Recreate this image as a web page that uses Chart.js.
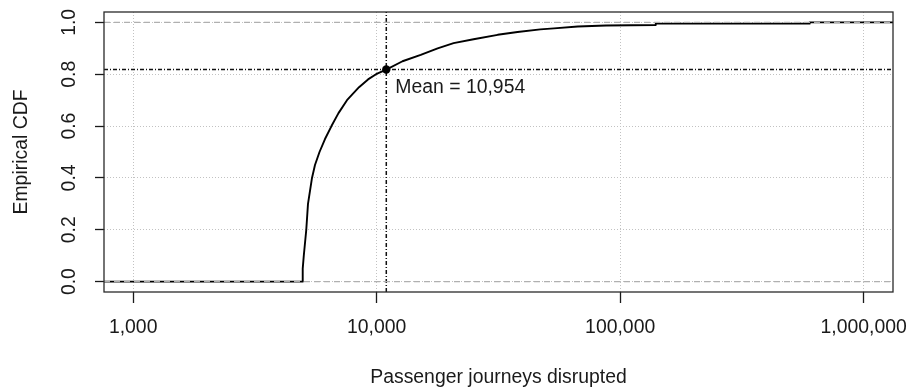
<!DOCTYPE html>
<html>
<head>
<meta charset="utf-8">
<script src="https://cdn.jsdelivr.net/npm/chart.js@4.4.1/dist/chart.umd.min.js"></script>
<style>
  html, body { margin: 0; padding: 0; background: #ffffff; }
  #wrap { width: 908px; height: 392px; }
</style>
</head>
<body>
<div id="wrap"><canvas id="c" width="908" height="392"></canvas></div>
<script>
// ---- data ----
const ecdfX = [759, 4940, 4970, 5020, 5140, 5224, 5426, 5581, 5825, 6135, 6523, 6970, 7553, 8465, 9218, 9943, 10954, 12770, 15170, 17800, 20700, 25000, 31400, 37900, 47000, 53500, 67000, 87500, 140000, 140000, 600000, 600000, 1320000];
const ecdfY = [0, 0, 0.05, 0.10, 0.20, 0.30, 0.40, 0.45, 0.50, 0.55, 0.60, 0.65, 0.70, 0.75, 0.78, 0.80, 0.818, 0.85, 0.875, 0.90, 0.92, 0.935, 0.952, 0.963, 0.973, 0.977, 0.984, 0.988, 0.990, 0.995, 0.995, 1.0, 1.0];
const meanValue = [10954];
const meanCdf = [0.818];
const meanLabel = ['Mean = 10,954'];
const refLevels = [0, 1];
const xTickValues = [1000, 10000, 100000, 1000000];
const xTickLabels = ['1,000', '10,000', '100,000', '1,000,000'];
const yTickValues = [0, 0.2, 0.4, 0.6, 0.8, 1.0];
const yTickLabels = ['0.0', '0.2', '0.4', '0.6', '0.8', '1.0'];
const xRange = [759, 1320000];
const yRange = [-0.04, 1.04];
const xTitle = 'Passenger journeys disrupted';
const yTitle = 'Empirical CDF';

// ---- styling ----
const FONT = "'Liberation Sans', Arial, sans-serif";
const FS = 19.4;
const TXT = '#1a1a1a';
Chart.defaults.font.family = FONT;
Chart.defaults.font.size = FS;
Chart.defaults.color = TXT;

const ecdfPoints = ecdfX.map((x, i) => ({ x: x, y: ecdfY[i] }));

const refDatasets = refLevels.map(level => ({
  data: [{ x: xRange[0], y: level }, { x: xRange[1], y: level }],
  borderColor: '#b0b0b0',
  borderWidth: 1.3,
  borderDash: [6, 4],
  pointRadius: 0,
  order: 0
}));

const datasets = [
  ...refDatasets,
  {
    data: [{ x: meanValue[0], y: yRange[0] }, { x: meanValue[0], y: yRange[1] }],
    borderColor: '#111',
    borderWidth: 1.5,
    borderDash: [4, 2, 1, 2],
    pointRadius: 0,
    order: 1
  },
  {
    data: [{ x: xRange[0], y: meanCdf[0] }, { x: xRange[1], y: meanCdf[0] }],
    borderColor: '#111',
    borderWidth: 1.5,
    borderDash: [4, 2, 1, 2],
    pointRadius: 0,
    order: 1
  },
  {
    data: ecdfPoints,
    borderColor: '#000',
    borderWidth: 1.9,
    pointRadius: 0,
    tension: 0,
    borderJoinStyle: 'round',
    order: 2
  },
  {
    data: [{ x: meanValue[0], y: meanCdf[0] }],
    showLine: false,
    pointRadius: 4.2,
    pointBackgroundColor: '#000',
    pointBorderColor: '#000',
    pointBorderWidth: 0,
    order: -1
  }
];

function zeroPadding(s) {
  s.paddingLeft = 0; s.paddingRight = 0; s.paddingTop = 0; s.paddingBottom = 0;
}

const framePlugin = {
  id: 'frameAndLabel',
  afterDatasetsDraw(chart) {
    const { ctx, chartArea: a, scales } = chart;
    ctx.save();
    // mean label
    const px = scales.x.getPixelForValue(meanValue[0]);
    const py = scales.y.getPixelForValue(meanCdf[0]);
    ctx.font = FS + 'px ' + FONT;
    ctx.fillStyle = TXT;
    ctx.textAlign = 'left';
    ctx.textBaseline = 'middle';
    ctx.fillText(meanLabel[0], px + 9, py + 18);
    // plot box
    ctx.strokeStyle = '#2a2a2a';
    ctx.lineWidth = 1.3;
    ctx.setLineDash([]);
    ctx.strokeRect(a.left, a.top, a.right - a.left, a.bottom - a.top);
    ctx.restore();
  }
};

new Chart(document.getElementById('c'), {
  type: 'line',
  data: { datasets },
  plugins: [framePlugin],
  options: {
    responsive: false,
    animation: false,
    devicePixelRatio: 1,
    layout: { padding: { left: 0, top: 12, right: 15, bottom: 0 } },
    plugins: { legend: { display: false }, tooltip: { enabled: false } },
    scales: {
      x: {
        type: 'logarithmic',
        min: xRange[0],
        max: xRange[1],
        afterBuildTicks: s => { s.ticks = xTickValues.map(v => ({ value: v })); },
        afterFit: s => { s.height = 100; zeroPadding(s); },
        ticks: {
          autoSkip: false,
          minRotation: 0,
          maxRotation: 0,
          padding: 13.4,
          color: TXT,
          font: { size: FS },
          callback: (v, i) => xTickLabels[i]
        },
        grid: {
          color: '#c2c2c2',
          lineWidth: 1,
          borderDash: [1, 2],
          tickColor: '#1a1a1a',
          tickLength: 11,
          tickWidth: 1.3,
          tickBorderDash: []
        },
        border: { display: false, dash: [1, 2] },
        title: { display: true, text: xTitle, color: TXT, font: { size: FS }, padding: { top: 0, bottom: 2.4 } }
      },
      y: {
        type: 'linear',
        min: yRange[0],
        max: yRange[1],
        afterBuildTicks: s => { s.ticks = yTickValues.map(v => ({ value: v })); },
        afterFit: s => { s.width = 104; zeroPadding(s); },
        ticks: {
          autoSkip: false,
          minRotation: 90,
          maxRotation: 90,
          crossAlign: 'center',
          padding: 11.5,
          color: TXT,
          font: { size: FS },
          callback: (v, i) => yTickLabels[i]
        },
        grid: {
          color: '#c2c2c2',
          lineWidth: 1,
          borderDash: [1, 2],
          tickColor: '#1a1a1a',
          tickLength: 9,
          tickWidth: 1.3,
          tickBorderDash: []
        },
        border: { display: false, dash: [1, 2] },
        title: { display: true, text: yTitle, color: TXT, font: { size: FS }, padding: { top: 10.4, bottom: 0 } }
      }
    }
  }
});
</script>
</body>
</html>
